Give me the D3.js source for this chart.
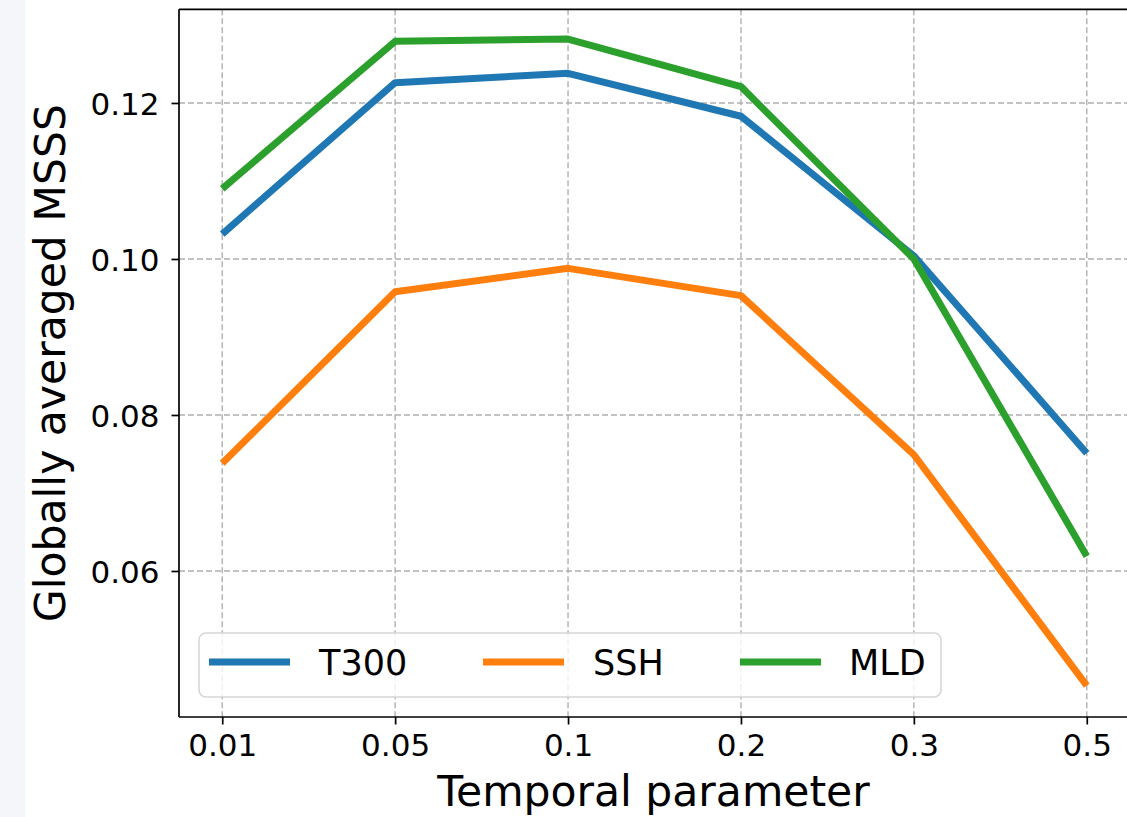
<!DOCTYPE html>
<html>
<head>
<meta charset="utf-8">
<script src="https://cdn.jsdelivr.net/npm/d3@7"></script>
<style>
  html, body { margin: 0; padding: 0; background: #ffffff; }
  svg { display: block; }
  text { font-family: "DejaVu Sans", sans-serif; fill: #000; }
</style>
</head>
<body>
<svg id="chart" width="1127" height="817"></svg>
<script>
// ---- data ----
const categories = ["0.01", "0.05", "0.1", "0.2", "0.3", "0.5"];
const seriesNames = ["T300", "SSH", "MLD"];
const seriesColors = ["#1f77b4", "#ff7f0e", "#2ca02c"];
const t300 = [0.1032, 0.1226, 0.1238, 0.1183, 0.1004, 0.0751];
const ssh  = [0.0738, 0.0958, 0.0988, 0.0953, 0.0749, 0.0453];
const mld  = [0.1090, 0.1279, 0.1282, 0.1221, 0.1000, 0.0619];
const yTicks = [0.06, 0.08, 0.10, 0.12];
const xLabel = "Temporal parameter";
const yLabel = "Globally averaged MSSS";

const seriesValues = [t300, ssh, mld];

// ---- layout ----
const svg = d3.select("#chart");
const L = 179, R = 1130, T = 9.3, B = 717;

svg.append("rect").attr("x", 0).attr("y", 0).attr("width", 25).attr("height", 817).attr("fill", "#f4f6f9");

const x = d3.scalePoint().domain(categories).range([L, R]).padding(0.25);
const y = d3.scaleLinear().domain([0.04128, 0.13201]).range([B, T]);

// grid
const grid = svg.append("g");
grid.selectAll("line.vg").data(categories).enter().append("line")
  .attr("x1", d => x(d)).attr("x2", d => x(d)).attr("y1", T).attr("y2", B)
  .attr("stroke", "#b0b0b0").attr("stroke-width", 1.4).attr("stroke-dasharray", "6,3");
grid.selectAll("line.hg").data(yTicks).enter().append("line")
  .attr("x1", L).attr("x2", R).attr("y1", d => y(d)).attr("y2", d => y(d))
  .attr("stroke", "#b0b0b0").attr("stroke-width", 1.4).attr("stroke-dasharray", "6,3");

// axes
const xAxis = svg.append("g").attr("transform", `translate(0,${B})`)
  .call(d3.axisBottom(x).tickSize(7.5).tickPadding(9));
const yAxis = svg.append("g").attr("transform", `translate(${L},0)`)
  .call(d3.axisLeft(y).tickValues(yTicks).tickFormat(d3.format(".2f")).tickSize(7.5).tickPadding(12));
[xAxis, yAxis].forEach(a => {
  a.select(".domain").remove();
  a.selectAll(".tick line").attr("stroke", "#000").attr("stroke-width", 1.7);
  a.selectAll(".tick text").attr("font-family", "DejaVu Sans").attr("font-size", 31).attr("fill", "#000");
});
yAxis.selectAll(".tick text").attr("dy", "0.36em");
xAxis.selectAll(".tick text").attr("dy", "0.71em");

// lines
const line = d3.line().x((d, i) => x(categories[i])).y(d => y(d));
seriesValues.forEach((vals, k) => {
  svg.append("path").datum(vals)
    .attr("d", line)
    .attr("fill", "none")
    .attr("stroke", seriesColors[k])
    .attr("stroke-width", 7)
    .attr("stroke-linejoin", "round")
    .attr("stroke-linecap", "butt");
});

// spines
svg.append("line").attr("x1", L).attr("x2", L).attr("y1", T).attr("y2", B).attr("stroke", "#000").attr("stroke-width", 1.7);
svg.append("line").attr("x1", L).attr("x2", R).attr("y1", B).attr("y2", B).attr("stroke", "#000").attr("stroke-width", 1.7);
svg.append("line").attr("x1", L).attr("x2", R).attr("y1", T).attr("y2", T).attr("stroke", "#000").attr("stroke-width", 1.7);
svg.append("line").attr("x1", R).attr("x2", R).attr("y1", T).attr("y2", B).attr("stroke", "#000").attr("stroke-width", 1.7);

// legend
const lg = svg.append("g");
lg.append("rect").attr("x", 199).attr("y", 633).attr("width", 742).attr("height", 64)
  .attr("rx", 7).attr("ry", 7)
  .attr("fill", "#ffffff").attr("fill-opacity", 0.8)
  .attr("stroke", "#d6d6d6").attr("stroke-width", 1.6);
const legendLineX = [209, 483, 740];
const legendTextX = [319, 593, 849];
seriesNames.forEach((n, k) => {
  const lx = legendLineX[k];
  lg.append("line").attr("x1", lx).attr("x2", lx + 81).attr("y1", 662).attr("y2", 662)
    .attr("stroke", seriesColors[k]).attr("stroke-width", 7);
  lg.append("text").attr("x", legendTextX[k]).attr("y", 662).attr("dy", "0.36em")
    .attr("font-size", 35).text(n);
});

// axis labels
svg.append("text").attr("x", (L + R) / 2 - 1).attr("y", 806)
  .attr("text-anchor", "middle").attr("font-size", 42.5).text(xLabel);
svg.append("text").attr("transform", `translate(65,${(T + B) / 2}) rotate(-90)`)
  .attr("text-anchor", "middle").attr("font-size", 42.5).text(yLabel);
</script>
</body>
</html>
